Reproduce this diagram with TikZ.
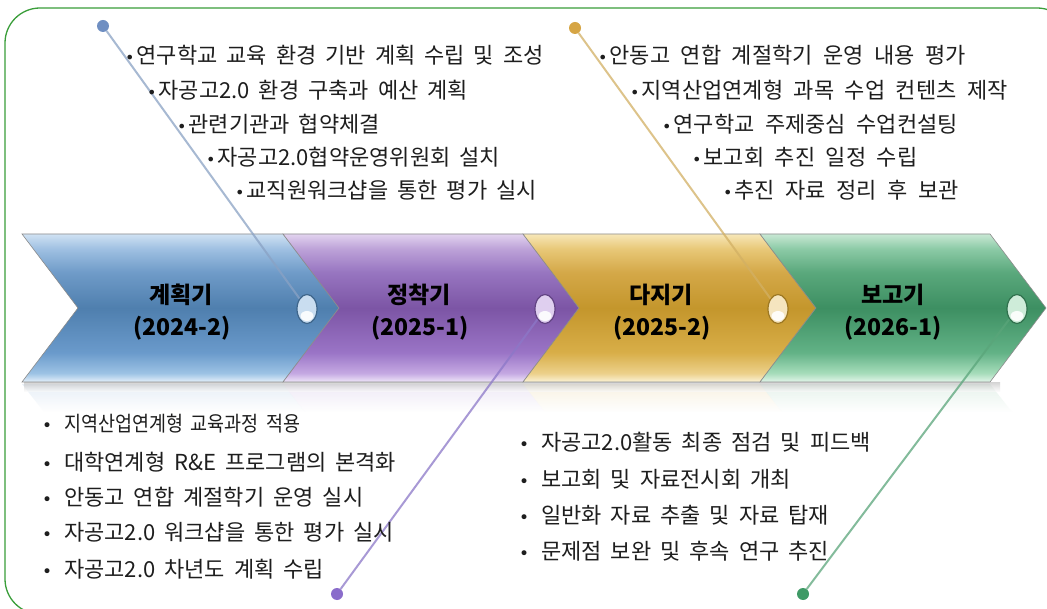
\documentclass[tikz,border=0pt]{standalone}
\usepackage{fontspec}
\setmainfont{Noto Sans CJK KR}
\newfontfamily\dvfont{DejaVu Sans}
\usetikzlibrary{shapes.geometric}

\definecolor{frame}{HTML}{3A9E3A}
\definecolor{txt}{HTML}{1E1E1E}
% blue
\definecolor{bA}{HTML}{E4F0FA}\definecolor{bB}{HTML}{9CC2E4}\definecolor{bC}{HTML}{6A9ACB}
\definecolor{bD}{HTML}{4F7FAE}\definecolor{bE}{HTML}{6F9BC8}\definecolor{bF}{HTML}{9FC0E2}\definecolor{bG}{HTML}{D0E2F3}
% purple
\definecolor{pA}{HTML}{EFE6F8}\definecolor{pB}{HTML}{C4A8E2}\definecolor{pC}{HTML}{9A74C6}
\definecolor{pD}{HTML}{7C55A5}\definecolor{pE}{HTML}{9775C0}\definecolor{pF}{HTML}{BDA2D8}\definecolor{pG}{HTML}{E2D3EF}
% gold
\definecolor{gA}{HTML}{FBF3D6}\definecolor{gB}{HTML}{ECD08A}\definecolor{gC}{HTML}{D8AE48}
\definecolor{gD}{HTML}{C4962C}\definecolor{gE}{HTML}{D4A848}\definecolor{gF}{HTML}{E8C878}\definecolor{gG}{HTML}{F7E7B8}
% green
\definecolor{nA}{HTML}{E3F5EA}\definecolor{nB}{HTML}{A6DCBA}\definecolor{nC}{HTML}{62B286}
\definecolor{nD}{HTML}{3D8F62}\definecolor{nE}{HTML}{5AA87C}\definecolor{nF}{HTML}{8CCAA6}\definecolor{nG}{HTML}{C8E8D4}

\definecolor{lineblue}{HTML}{8AA2C4}\definecolor{dotblue}{HTML}{6F8FC2}
\definecolor{linegold}{HTML}{D2B064}\definecolor{dotgold}{HTML}{D6A544}
\definecolor{linepurple}{HTML}{8C78C8}\definecolor{dotpurple}{HTML}{8A6CCB}
\definecolor{linegreen}{HTML}{5AA57A}\definecolor{dotgreen}{HTML}{3F9A66}

\pgfdeclareverticalshading{bandblue}{100bp}{color(0bp)=(bA); color(25bp)=(bA); color(28bp)=(bB); color(35bp)=(bC); color(50bp)=(bD); color(62bp)=(bE); color(70bp)=(bF); color(75bp)=(bG); color(100bp)=(bG)}
\pgfdeclareverticalshading{bandpurple}{100bp}{color(0bp)=(pA); color(25bp)=(pA); color(28bp)=(pB); color(35bp)=(pC); color(50bp)=(pD); color(62bp)=(pE); color(70bp)=(pF); color(75bp)=(pG); color(100bp)=(pG)}
\pgfdeclareverticalshading{bandgold}{100bp}{color(0bp)=(gA); color(25bp)=(gA); color(28bp)=(gB); color(35bp)=(gC); color(50bp)=(gD); color(62bp)=(gE); color(70bp)=(gF); color(75bp)=(gG); color(100bp)=(gG)}
\pgfdeclareverticalshading{bandgreen}{100bp}{color(0bp)=(nA); color(25bp)=(nA); color(28bp)=(nB); color(35bp)=(nC); color(50bp)=(nD); color(62bp)=(nE); color(70bp)=(nF); color(75bp)=(nG); color(100bp)=(nG)}

\newcommand\tbul{{\dvfont\fontsize{16}{16}\selectfont •}\hspace{2pt}}
\newcommand\bbul{{\dvfont\fontsize{17}{17}\selectfont •}\hspace{12pt}}
\newcommand\wsp{\spaceskip=9pt plus 2pt\relax}
\newcommand\wspb{\spaceskip=10.5pt plus 2pt\relax}

\begin{document}
\begin{tikzpicture}[x=1pt,y=-1pt,
  item/.style={anchor=west,inner sep=0pt,text=txt,font=\fontsize{22}{22}\selectfont,execute at begin node=\wsp},
  itemw/.style={item,execute at begin node=\wspb},
  label/.style={inner sep=0pt,text=black,font=\bfseries\fontsize{23}{23}\selectfont},
  chev/.style={draw=black!45,line width=0.6pt},
  drop/.style={ellipse,minimum width=20pt,minimum height=29pt,inner sep=0pt,line width=1.2pt},
  enddot/.style={circle,minimum size=12pt,inner sep=0pt},
  conn/.style={line width=2pt,opacity=0.75},
  refl/.style={opacity=0.35}]
\useasboundingbox (0,0) rectangle (1047,609);
\fill[white] (0,0) rectangle (1047,609);
% frame
\draw[frame,line width=1.3pt,rounded corners=35pt] (5,8) rectangle (1072,614);

% reflections under the band
\shade[refl,top color=bC!45,bottom color=white] (22,384) -- (283,384) -- (305,412) -- (44,412) -- cycle;
\shade[refl,top color=pC!45,bottom color=white] (283,384) -- (523,384) -- (545,412) -- (305,412) -- cycle;
\shade[refl,top color=gC!45,bottom color=white] (523,384) -- (760,384) -- (782,412) -- (545,412) -- cycle;
\shade[refl,top color=nC!45,bottom color=white] (760,384) -- (990,384) -- (1012,412) -- (782,412) -- cycle;
\shade[top color=black!25,bottom color=white,opacity=0.6] (24,383) rectangle (1000,392);

% chevrons
\path[chev,shading=bandblue]   (22,234) -- (283,234) -- (339,308) -- (283,382) -- (22,382) -- (78,308) -- cycle;
\path[chev,shading=bandpurple] (283,234) -- (523,234) -- (579,308) -- (523,382) -- (283,382) -- (339,308) -- cycle;
\path[chev,shading=bandgold]   (523,234) -- (760,234) -- (816,308) -- (760,382) -- (523,382) -- (579,308) -- cycle;
\path[chev,shading=bandgreen]  (760,234) -- (990,234) -- (1046,308) -- (990,382) -- (760,382) -- (816,308) -- cycle;

% end dots
\node[enddot,fill=dotblue] (e1) at (103,26) {};
\node[enddot,fill=dotgold] (e3) at (575,28) {};
\node[enddot,fill=dotpurple] (e2) at (337,594) {};
\node[enddot,fill=dotgreen] (e4) at (803,594) {};

% droplets
\node[drop,fill=bB!55!white,draw=bD!80!black] (d1) at (307,309) {};
\node[drop,fill=pB!55!white,draw=pD!80!black] (d2) at (545,309) {};
\node[drop,fill=gB!55!white,draw=gD!80!black] (d3) at (778,309) {};
\node[drop,fill=nB!55!white,draw=nD!80!black] (d4) at (1017,309) {};
\foreach \x in {307,545,778,1017}{\fill[white,opacity=0.9] (\x,316) ellipse (6.5pt and 5pt);}

% connectors
\draw[conn,lineblue] (e1) -- (d1);
\draw[conn,linegold] (e3) -- (d3);
\draw[conn,linepurple] (e2) -- (d2);
\draw[conn,linegreen] (e4) -- (d4);

% labels
\node[label] (l1) at (181,295) {계획기};
\node[label] (y1) at (182,328) {(2024-2)};
\node[label] (l2) at (419,295) {정착기};
\node[label] (y2) at (420,328) {(2025-1)};
\node[label] (l3) at (661,295) {다지기};
\node[label] (y3) at (662,328) {(2025-2)};
\node[label] (l4) at (893,295) {보고기};
\node[label] (y4) at (893,328) {(2026-1)};

% top-left list
\node[item] (a1) at (125,55)  {\tbul 연구학교 교육 환경 기반 계획 수립 및 조성};
\node[item] (a2) at (147,90)  {\tbul 자공고2.0 환경 구축과 예산 계획};
\node[item] (a3) at (177,124) {\tbul 관련기관과 협약체결};
\node[item] (a4) at (206,157) {\tbul 자공고2.0협약운영위원회 설치};
\node[item] (a5) at (235,190) {\tbul 교직원워크샵을 통한 평가 실시};

% top-right list
\node[itemw] (c1) at (598,55)  {\tbul 안동고 연합 계절학기 운영 내용 평가};
\node[itemw] (c2) at (630,90)  {\tbul 지역산업연계형 과목 수업 컨텐츠 제작};
\node[itemw] (c3) at (662,124) {\tbul 연구학교 주제중심 수업컨설팅};
\node[itemw] (c4) at (692,157) {\tbul 보고회 추진 일정 수립};
\node[itemw] (c5) at (723,190) {\tbul 추진 자료 정리 후 보관};

% bottom-left list
\node[item] (b1) at (42,424) {\bbul\scalebox{0.84}[0.95]{지역산업연계형 교육과정 적용}};
\node[item] (b2) at (42,462) {\bbul 대학연계형 R\&E 프로그램의 본격화};
\node[item] (b3) at (42,497) {\bbul 안동고 연합 계절학기 운영 실시};
\node[item] (b4) at (42,532) {\bbul 자공고2.0 워크샵을 통한 평가 실시};
\node[item] (b5) at (42,569) {\bbul 자공고2.0 차년도 계획 수립};

% bottom-right list
\node[item] (r1) at (519,442) {\bbul 자공고2.0활동 최종 점검 및 피드백};
\node[item] (r2) at (519,479) {\bbul 보고회 및 자료전시회 개최};
\node[item] (r3) at (519,515) {\bbul 일반화 자료 추출 및 자료 탑재};
\node[item] (r4) at (519,551) {\bbul 문제점 보완 및 후속 연구 추진};
\end{tikzpicture}
\end{document}
